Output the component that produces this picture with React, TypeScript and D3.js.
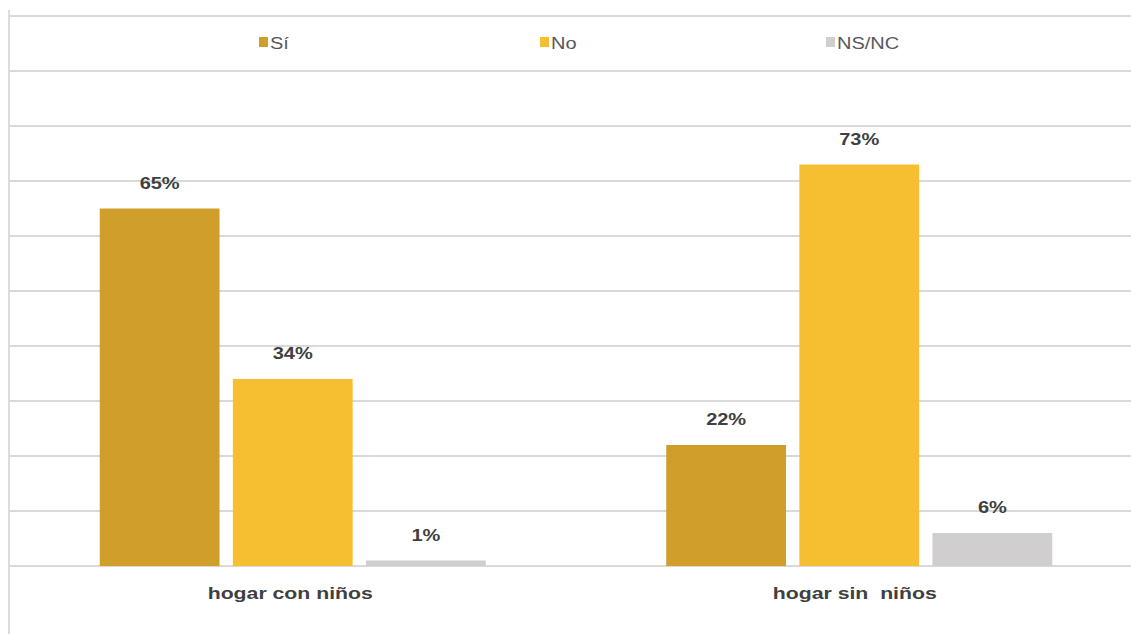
import React from "react";
import * as d3 from "d3";

const categories = ["hogar con niños", "hogar sin  niños"];
const seriesNames = ["Sí", "No", "NS/NC"];
const siValues = [65, 22];
const noValues = [34, 73];
const nsncValues = [1, 6];
const colors = ["#D09E2A", "#F5BF31", "#D0CECE"];
const gridTicks = [0, 10, 20, 30, 40, 50, 60, 70, 80, 90, 100];

const W = 1131;
const H = 634;
const SX = 1.25;

function Txt(props: {
  x: number;
  y: number;
  size: number;
  bold?: boolean;
  anchor?: string;
  fill: string;
  children: React.ReactNode;
}) {
  return (
    <text
      transform={`translate(${props.x},${props.y}) scale(${SX},1)`}
      textAnchor={props.anchor || "start"}
      fontSize={props.size}
      fontWeight={props.bold ? "bold" : "normal"}
      fill={props.fill}
      style={{ whiteSpace: "pre" }}
    >
      {props.children}
    </text>
  );
}

export default function App() {
  const series = [siValues, noValues, nsncValues];
  const x0 = d3.scaleBand<string>().domain(categories).range([9, 1142]).paddingInner(0).paddingOuter(0);
  const innerW = 386;
  const x1 = d3
    .scaleBand<string>()
    .domain(seriesNames)
    .range([0, innerW])
    .paddingInner(0.1)
    .paddingOuter(0);
  const y = d3.scaleLinear().domain([0, 100]).range([566, 16]);
  const legendX = [259, 540, 826];
  const labelShift = [-2, -4];

  return (
    <svg
      width={W}
      height={H}
      style={{ position: "absolute", left: 0, top: 0, display: "block", background: "#fff" }}
      fontFamily="Liberation Sans, Arial, sans-serif"
    >
      {gridTicks.map((t) => (
        <line key={t} x1={9} x2={W} y1={y(t)} y2={y(t)} stroke="#D9D9D9" strokeWidth={1.8} />
      ))}
      <line x1={9} x2={9} y1={10} y2={H} stroke="#D9D9D9" strokeWidth={1.8} />
      {categories.map((c, ci) => {
        const gx = (x0(c) as number) + (x0.bandwidth() - innerW) / 2 + 0.5;
        return (
          <g key={c}>
            {seriesNames.map((s, si) => {
              const v = series[si][ci];
              const bx = gx + (x1(s) as number);
              const bw = x1.bandwidth();
              return (
                <g key={s}>
                  <rect x={bx} y={y(v)} width={bw} height={y(0) - y(v)} fill={colors[si]} />
                  <Txt x={bx + bw / 2} y={y(v) - 20} size={16} bold anchor="middle" fill="#404040">
                    {v}%
                  </Txt>
                </g>
              );
            })}
            <Txt
              x={(x0(c) as number) + x0.bandwidth() / 2 + labelShift[ci]}
              y={599}
              size={17}
              bold
              anchor="middle"
              fill="#404040"
            >
              {c}
            </Txt>
          </g>
        );
      })}
      {seriesNames.map((s, i) => (
        <g key={s}>
          <rect x={legendX[i]} y={37} width={9} height={10} fill={colors[i]} />
          <Txt x={legendX[i] + 11} y={49} size={16} fill="#595959">
            {s}
          </Txt>
        </g>
      ))}
    </svg>
  );
}
